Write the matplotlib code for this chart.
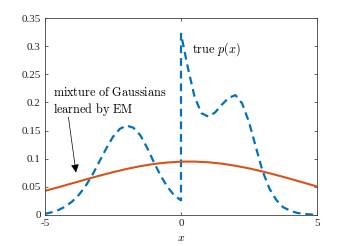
import numpy as np
import matplotlib
matplotlib.use("Agg")
import matplotlib.pyplot as plt

# true density p(x): left part (x<0) and right part (x>=0)
x_left = [-5.0, -4.75, -4.5, -4.25, -4.0, -3.75, -3.5, -3.25, -3.0, -2.75, -2.5,
          -2.25, -2.0, -1.75, -1.5, -1.25, -1.0, -0.75, -0.5, -0.25, 0.0]
p_left = [0.002, 0.005, 0.009, 0.015, 0.024, 0.036, 0.052, 0.072, 0.095, 0.118, 0.139,
          0.153, 0.159, 0.155, 0.142, 0.120, 0.094, 0.070, 0.050, 0.035, 0.026]
x_right = [0.0, 0.25, 0.5, 0.75, 1.0, 1.25, 1.5, 1.75, 2.0, 2.25, 2.5,
           2.75, 3.0, 3.25, 3.5, 3.75, 4.0, 4.25, 4.5, 4.75, 5.0]
p_right = [0.322, 0.262, 0.210, 0.181, 0.175, 0.182, 0.196, 0.208, 0.213, 0.198, 0.165,
           0.121, 0.078, 0.047, 0.027, 0.014, 0.008, 0.004, 0.002, 0.001, 0.0005]

# mixture of Gaussians learned by EM
x_em = [-5.0, -4.5, -4.0, -3.5, -3.0, -2.5, -2.0, -1.5, -1.0, -0.5, 0.0,
        0.5, 1.0, 1.5, 2.0, 2.5, 3.0, 3.5, 4.0, 4.5, 5.0]
p_em = [0.0429, 0.0494, 0.0563, 0.0631, 0.0698, 0.0761, 0.0818, 0.0867, 0.0906, 0.0933, 0.0948,
        0.0949, 0.0937, 0.0912, 0.0875, 0.0828, 0.0773, 0.0711, 0.0645, 0.0576, 0.0507]

x_ticks = [-5, 0, 5]
x_ticklabels = ["-5", "0", "5"]
y_ticks = [0, 0.05, 0.1, 0.15, 0.2, 0.25, 0.3, 0.35]
y_ticklabels = ["0", "0.05", "0.1", "0.15", "0.2", "0.25", "0.3", "0.35"]

plt.rcParams['mathtext.fontset'] = 'cm'

fig = plt.figure(figsize=(3.5, 2.46), dpi=100)
ax = fig.add_axes([45/350, 31/246, 272/350, 197/246])

x_true = x_left + x_right
p_true = p_left + p_right
ax.plot(x_true, p_true, color='#0072BD', lw=1.6, ls=(0, (3.5, 2.2)))
ax.plot(x_em, p_em, color='#D95319', lw=1.5)

ax.set_xlim(-5, 5)
ax.set_ylim(0, 0.35)
ax.set_xticks(x_ticks)
ax.set_xticklabels(x_ticklabels)
ax.set_yticks(y_ticks)
ax.set_yticklabels(y_ticklabels)
for lab in ax.get_xticklabels() + ax.get_yticklabels():
    lab.set_fontfamily('Liberation Serif')
    lab.set_fontsize(8)
    lab.set_color('#262626')
ax.tick_params(direction='in', length=2.5, width=0.5, color='#262626',
               top=True, right=True, pad=3)
for s in ax.spines.values():
    s.set_linewidth(0.6)
    s.set_color('#404040')

ax.set_xlabel(r'$x$', fontsize=8.5, labelpad=2)

ax.text(0.39, 0.294, r'$\mathrm{true}\ p(x)$', fontsize=8.8, va='center', ha='left')
ax.text(-4.72, 0.201, r'$\mathrm{mixture\ of\ Gaussians}$' + '\n' + r'$\mathrm{learned\ by\ EM}$',
        fontsize=8.8, va='center', ha='left', linespacing=1.15)
ax.annotate('', xy=(-3.86, 0.0755), xytext=(-4.14, 0.174),
            arrowprops=dict(arrowstyle='-|>', color='black', lw=0.5,
                            mutation_scale=12, shrinkA=0, shrinkB=0))

fig.savefig('out.png', dpi=100)
